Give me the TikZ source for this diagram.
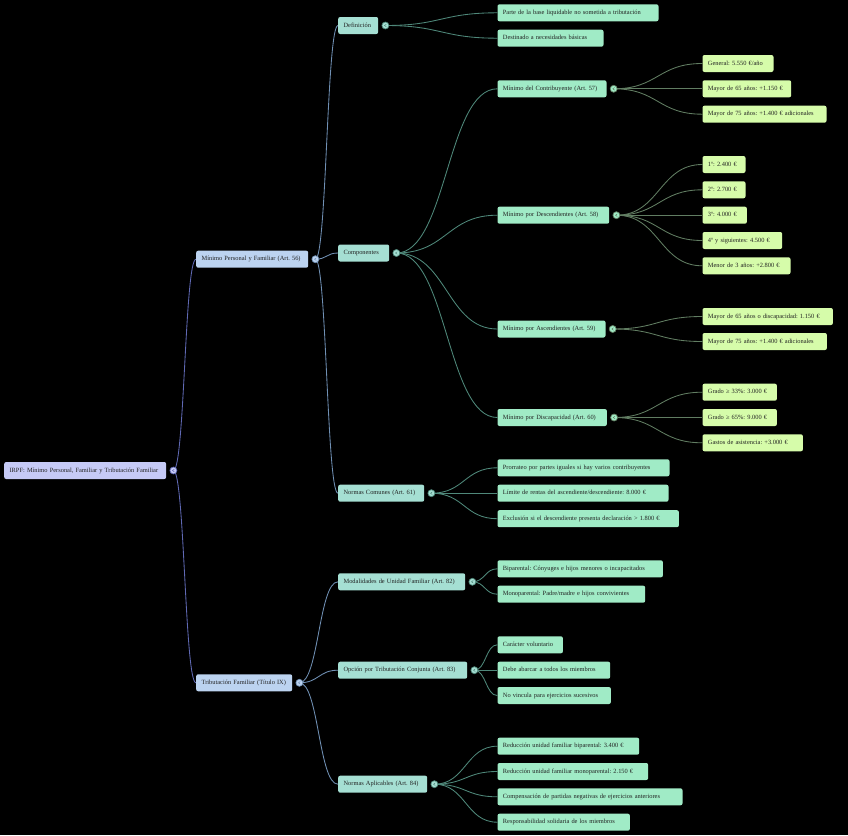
\documentclass[tikz,border=0pt]{standalone}
\usepackage{fontspec}
\setmainfont{Liberation Serif}
\usetikzlibrary{calc}
\definecolor{f0}{HTML}{C6CAF6}
\definecolor{f1}{HTML}{BCD3F0}
\definecolor{f2}{HTML}{A5DFD3}
\definecolor{f3}{HTML}{A0EBC6}
\definecolor{f4}{HTML}{D6FCAA}
\definecolor{e0}{HTML}{6069B4}
\definecolor{e1}{HTML}{7090B4}
\definecolor{e2}{HTML}{4F887A}
\definecolor{e3}{HTML}{617D62}
\definecolor{txt}{HTML}{222222}
\pgfdeclarelayer{back}
\pgfdeclarelayer{links}
\pgfsetlayers{back,links,main}
\frenchspacing
\newcommand\mmlink[3]{\draw[#1] let \p1=(#2.center), \p2=(#3.west) in (\p1) .. controls ({(\x1+\x2)/2},\y1) and ({(\x1+\x2)/2},\y2) .. (\p2);}
\begin{document}
\begin{tikzpicture}[x=1pt,y=-1pt,
  font=\fontsize{6.4}{7.5}\selectfont\frenchspacing,
  box/.style={anchor=west, rounded corners=2pt, inner xsep=5.4pt, inner ysep=0pt,
    minimum height=17pt, text height=4.6pt, text depth=1.5pt, align=left, text=txt},
  n0/.style={box, fill=f0}, n1/.style={box, fill=f1}, n2/.style={box, fill=f2},
  n3/.style={box, fill=f3}, n4/.style={box, fill=f4},
  dot/.style 2 args={circle, minimum size=7pt, inner sep=0pt, line width=0.7pt, fill=#1, draw=#2,
    path picture={\draw[#2, line width=.45pt]
      ([xshift=0.9pt,yshift=1.3pt]path picture bounding box.center) --
      ([xshift=-0.9pt]path picture bounding box.center) --
      ([xshift=0.9pt,yshift=-1.3pt]path picture bounding box.center);}},
  d0/.style={dot={f0}{e0}}, d1/.style={dot={f1}{e1}}, d2/.style={dot={f2}{e2}}, d3/.style={dot={f3}{e3}},
  l0/.style={e0, line width=0.85pt}, l1/.style={e1, line width=0.85pt},
  l2/.style={e2, line width=0.85pt}, l3/.style={e3, line width=0.85pt}]
\begin{pgfonlayer}{back}
\fill[black] (0,0) rectangle (848,835);
\end{pgfonlayer}
\useasboundingbox (0,0) rectangle (848,835);
% level 0
\node[n0, text width=151.2pt] (root) at (4,470.5) {IRPF: Mínimo Personal, Familiar y Tributación Familiar};
% level 1
\node[n1, text width=101.2pt] (mpf) at (196,259.2) {Mínimo Personal y Familiar (Art. 56)};
\node[n1, text width=85.2pt] (tf) at (196,682.8) {Tributación Familiar (Título IX)};
% level 2
\node[n2, text width=29.2pt] (def) at (338,25.5) {Definición};
\node[n2, text width=40.2pt] (comp) at (338,253) {Componentes};
\node[n2, text width=75.2pt] (nc) at (338,493.2) {Normas Comunes (Art. 61)};
\node[n2, text width=116.2pt] (mod) at (338,581.8) {Modalidades de Unidad Familiar (Art. 82)};
\node[n2, text width=118.2pt] (opc) at (338,670.2) {Opción por Tributación Conjunta (Art. 83)};
\node[n2, text width=78.2pt] (nap) at (338,784.2) {Normas Aplicables (Art. 84)};
% level 3
\node[n3, text width=150.2pt] (parte) at (497.3,12.8) {Parte de la base liquidable no sometida a tributación};
\node[n3, text width=95.2pt] (dest) at (497.3,38.2) {Destinado a necesidades básicas};
\node[n3, text width=98.2pt] (mcon) at (497.3,88.8) {Mínimo del Contribuyente (Art. 57)};
\node[n3, text width=100.9pt] (mdes) at (497.3,215.2) {Mínimo por Descendientes (Art. 58)};
\node[n3, text width=97.2pt] (masc) at (497.3,329) {Mínimo por Ascendientes (Art. 59)};
\node[n3, text width=98.6pt] (mdis) at (497.3,417.5) {Mínimo por Discapacidad (Art. 60)};
\node[n3, text width=161.2pt] (pro) at (497.3,467.8) {Prorrateo por partes iguales si hay varios contribuyentes};
\node[n3, text width=160.2pt] (lim) at (497.3,493.2) {Límite de rentas del ascendiente/descendiente: 8.000 €};
\node[n3, text width=170.6pt] (exc) at (497.3,518.7) {Exclusión si el descendiente presenta declaración > 1.800 €};
\node[n3, text width=154.6pt] (bip) at (497.3,568.8) {Biparental: Cónyuges e hijos menores o incapacitados};
\node[n3, text width=136.9pt] (mon) at (497.3,594.2) {Monoparental: Padre/madre e hijos convivientes};
\node[n3, text width=54.6pt] (car) at (497.3,644.8) {Carácter voluntario};
\node[n3, text width=101.9pt] (deb) at (497.3,670.2) {Debe abarcar a todos los miembros};
\node[n3, text width=102.6pt] (novi) at (497.3,695.5) {No vincula para ejercicios sucesivos};
\node[n3, text width=130.9pt] (rbi) at (497.3,746.2) {Reducción unidad familiar biparental: 3.400 €};
\node[n3, text width=139.9pt] (rmo) at (497.3,771.5) {Reducción unidad familiar monoparental: 2.150 €};
\node[n3, text width=174.2pt] (cmp) at (497.3,796.8) {Compensación de partidas negativas de ejercicios anteriores};
\node[n3, text width=121.6pt] (res) at (497.3,822.2) {Responsabilidad solidaria de los miembros};
% level 4
\node[n4, text width=60.2pt] (gen) at (702.3,63.5) {General: 5.550 €/año};
\node[n4, text width=77.9pt] (m65) at (702.3,88.8) {Mayor de 65 años: +1.150 €};
\node[n4, text width=113.2pt] (m75) at (702.3,114.2) {Mayor de 75 años: +1.400 € adicionales};
\node[n4, text width=32.2pt] (dA) at (702.3,164.5) {1º: 2.400 €};
\node[n4, text width=32.2pt] (dB) at (702.3,189.8) {2º: 2.700 €};
\node[n4, text width=33.6pt] (dC) at (702.3,215.2) {3º: 4.000 €};
\node[n4, text width=68.9pt] (dD) at (702.3,240.5) {4º y siguientes: 4.500 €};
\node[n4, text width=77.2pt] (dM) at (702.3,265.8) {Menor de 3 años: +2.800 €};
\node[n4, text width=119.6pt] (a65) at (702.3,316.5) {Mayor de 65 años o discapacidad: 1.150 €};
\node[n4, text width=113.6pt] (a75) at (702.3,341.5) {Mayor de 75 años: +1.400 € adicionales};
\node[n4, text width=63.6pt] (g33) at (702.3,392.2) {Grado ≥ 33\%: 3.000 €};
\node[n4, text width=63.6pt] (g65) at (702.3,417.5) {Grado ≥ 65\%: 9.000 €};
\node[n4, text width=89.6pt] (gas) at (702.3,442.8) {Gastos de asistencia: +3.000 €};
% collapse circles
\node[d0] (rootc) at ([xshift=7pt]root.east) {};
\node[d1] (mpfc) at ([xshift=7pt]mpf.east) {};
\node[d1] (tfc) at ([xshift=7pt]tf.east) {};
\node[d2] (defc) at ([xshift=7pt]def.east) {};
\node[d2] (compc) at ([xshift=7pt]comp.east) {};
\node[d2] (ncc) at ([xshift=7pt]nc.east) {};
\node[d2] (modc) at ([xshift=7pt]mod.east) {};
\node[d2] (opcc) at ([xshift=7pt]opc.east) {};
\node[d2] (napc) at ([xshift=7pt]nap.east) {};
\node[d3] (mconc) at ([xshift=7pt]mcon.east) {};
\node[d3] (mdesc) at ([xshift=7pt]mdes.east) {};
\node[d3] (mascc) at ([xshift=7pt]masc.east) {};
\node[d3] (mdisc) at ([xshift=7pt]mdis.east) {};
% links
\begin{pgfonlayer}{links}
\mmlink{l0}{rootc}{mpf}
\mmlink{l0}{rootc}{tf}
\mmlink{l1}{mpfc}{def}
\mmlink{l1}{mpfc}{comp}
\mmlink{l1}{mpfc}{nc}
\mmlink{l1}{tfc}{mod}
\mmlink{l1}{tfc}{opc}
\mmlink{l1}{tfc}{nap}
\mmlink{l2}{defc}{parte}
\mmlink{l2}{defc}{dest}
\mmlink{l2}{compc}{mcon}
\mmlink{l2}{compc}{mdes}
\mmlink{l2}{compc}{masc}
\mmlink{l2}{compc}{mdis}
\mmlink{l2}{ncc}{pro}
\mmlink{l2}{ncc}{lim}
\mmlink{l2}{ncc}{exc}
\mmlink{l2}{modc}{bip}
\mmlink{l2}{modc}{mon}
\mmlink{l2}{opcc}{car}
\mmlink{l2}{opcc}{deb}
\mmlink{l2}{opcc}{novi}
\mmlink{l2}{napc}{rbi}
\mmlink{l2}{napc}{rmo}
\mmlink{l2}{napc}{cmp}
\mmlink{l2}{napc}{res}
\mmlink{l3}{mconc}{gen}
\mmlink{l3}{mconc}{m65}
\mmlink{l3}{mconc}{m75}
\mmlink{l3}{mdesc}{dA}
\mmlink{l3}{mdesc}{dB}
\mmlink{l3}{mdesc}{dC}
\mmlink{l3}{mdesc}{dD}
\mmlink{l3}{mdesc}{dM}
\mmlink{l3}{mascc}{a65}
\mmlink{l3}{mascc}{a75}
\mmlink{l3}{mdisc}{g33}
\mmlink{l3}{mdisc}{g65}
\mmlink{l3}{mdisc}{gas}
\end{pgfonlayer}
\end{tikzpicture}
\end{document}
